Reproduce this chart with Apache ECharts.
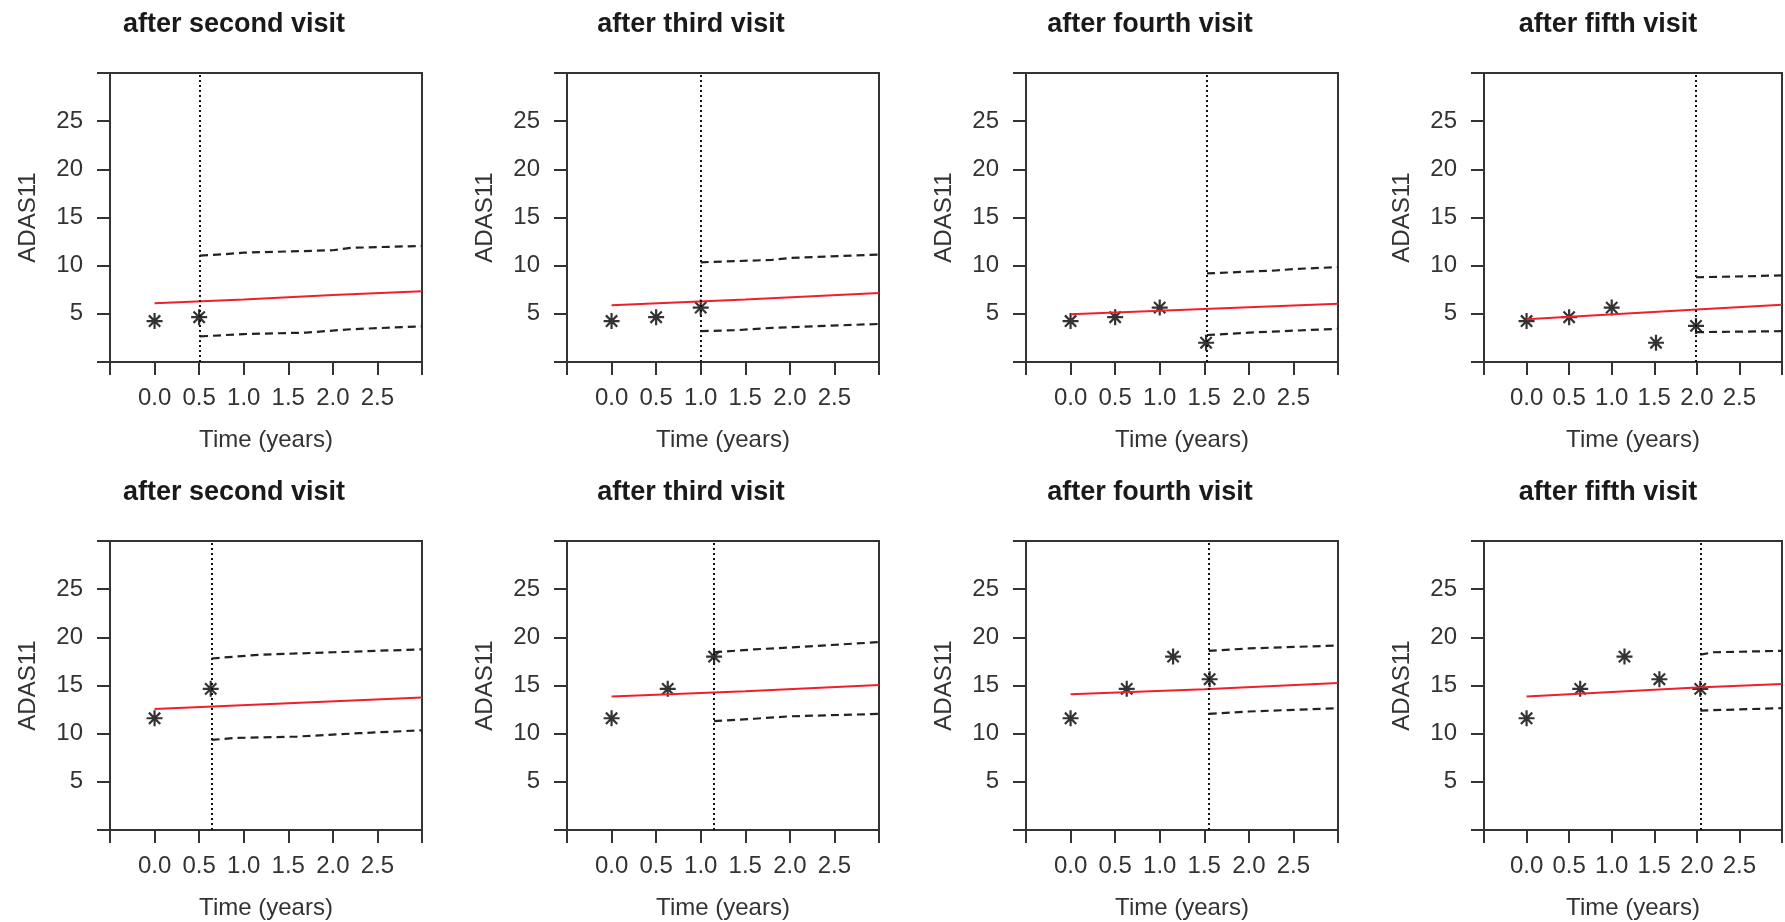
<!DOCTYPE html>
<html>
<head>
<meta charset="utf-8">
<script src="https://cdn.jsdelivr.net/npm/echarts@6/dist/echarts.min.js"></script>
<style>
  html, body { margin: 0; padding: 0; background: #fff; }
  #main { width: 1785px; height: 922px; }
</style>
</head>
<body>
<div id="main"></div>
<script>
// panel titles and tick labels
const panelTitles = ['after second visit', 'after third visit', 'after fourth visit', 'after fifth visit'];
const xTickLabels = ['0.0', '0.5', '1.0', '1.5', '2.0', '2.5'];
const yTickLabels = ['5', '10', '15', '20', '25'];

// top row patient: observed visits
const topTimes = [0, 0.5, 1.0, 1.52, 1.99];
const topScores = [4.25, 4.65, 5.65, 2.0, 3.75];
// time of the last used visit (dotted line) for each panel
const topCut = [0.51, 1.0, 1.53, 1.99];
// predicted mean (red) and interval (dashed), one list per panel
const topMean = [
  [[0, 6.1], [1, 6.5], [2, 6.95], [3, 7.35]],
  [[0, 5.9], [1.5, 6.5], [3, 7.15]],
  [[0, 4.95], [1.5, 5.5], [3, 6.05]],
  [[0, 4.45], [2, 5.45], [3, 5.95]]
];
const topUpper = [
  [[0.51, 11.05], [0.8, 11.2], [1.0, 11.35], [2.0, 11.6], [2.2, 11.85], [3, 12.05]],
  [[1.0, 10.35], [1.8, 10.6], [2.0, 10.8], [3, 11.15]],
  [[1.53, 9.2], [2.3, 9.5], [2.5, 9.65], [3, 9.85]],
  [[1.99, 8.8], [2.6, 8.9], [3, 9.0]]
];
const topLower = [
  [[0.51, 2.65], [0.8, 2.8], [1.0, 2.9], [1.7, 3.05], [2.2, 3.4], [3, 3.7]],
  [[1.0, 3.2], [1.4, 3.3], [1.8, 3.55], [3, 3.95]],
  [[1.53, 2.8], [2.0, 3.05], [2.5, 3.25], [3, 3.45]],
  [[1.99, 3.1], [3, 3.2]]
];

// bottom row patient
const bottomTimes = [0, 0.63, 1.15, 1.56, 2.04];
const bottomScores = [11.6, 14.65, 18.0, 15.65, 14.65];
const bottomCut = [0.64, 1.15, 1.55, 2.04];
const bottomMean = [
  [[0, 12.55], [1.5, 13.15], [3, 13.75]],
  [[0, 13.85], [1.5, 14.4], [3, 15.05]],
  [[0, 14.1], [1.5, 14.6], [3, 15.25]],
  [[0, 13.85], [2, 14.8], [3, 15.15]]
];
const bottomUpper = [
  [[0.64, 17.8], [0.9, 18.0], [1.2, 18.2], [2.0, 18.45], [3, 18.75]],
  [[1.15, 18.45], [1.6, 18.75], [2.0, 18.95], [3, 19.5]],
  [[1.55, 18.6], [2.0, 18.85], [3, 19.15]],
  [[2.04, 18.2], [2.2, 18.45], [3, 18.6]]
];
const bottomLower = [
  [[0.64, 9.35], [0.9, 9.55], [1.6, 9.7], [2.3, 10.05], [3, 10.35]],
  [[1.15, 11.3], [1.6, 11.55], [2.0, 11.8], [3, 12.05]],
  [[1.55, 12.05], [2.0, 12.3], [3, 12.65]],
  [[2.04, 12.4], [3, 12.65]]
];

const FONT = '"Liberation Sans", Arial, sans-serif';
const gridLefts = [110, 567, 1026, 1484];
const rowTops = [73, 541];
const titleTops = [11, 479];
// R style asterisk (pch = 8)
const STAR = 'path://M0,-10L0,10M-10,0L10,0M-7.07,-7.07L7.07,7.07M-7.07,7.07L7.07,-7.07';

const rows = [
  { times: topTimes, scores: topScores, cut: topCut, mean: topMean, upper: topUpper, lower: topLower },
  { times: bottomTimes, scores: bottomScores, cut: bottomCut, mean: bottomMean, upper: bottomUpper, lower: bottomLower }
];

const grid = [], xAxis = [], yAxis = [], series = [], title = [];

rows.forEach((row, r) => {
  for (let c = 0; c < 4; c++) {
    const i = r * 4 + c;
    grid.push({
      left: gridLefts[c], top: rowTops[r], width: 312, height: 289,
      show: true, borderColor: '#333', borderWidth: 2, backgroundColor: 'transparent'
    });
    title.push({
      text: panelTitles[c], left: gridLefts[c] + 124, top: titleTops[r],
      textAlign: 'center', padding: 0,
      textStyle: { fontSize: 27, fontWeight: 'bold', color: '#1a1a1a', fontFamily: FONT }
    });
    xAxis.push({
      gridIndex: i, type: 'value', min: -0.5, max: 3, interval: 0.5,
      axisLine: { show: true, onZero: false, lineStyle: { color: '#333', width: 2 } },
      axisTick: { show: true, length: 13, lineStyle: { color: '#333', width: 2 } },
      axisLabel: {
        fontSize: 24, color: '#333', margin: 24, fontFamily: FONT,
        formatter: v => { const s = v.toFixed(1); return xTickLabels.includes(s) && v >= 0 ? s : ''; }
      },
      splitLine: { show: false },
      name: 'Time (years)', nameLocation: 'middle', nameGap: 66, nameMoveOverlap: false,
      nameTextStyle: { fontSize: 24, color: '#333', fontFamily: FONT }
    });
    yAxis.push({
      gridIndex: i, type: 'value', min: 0, max: 30, interval: 5,
      axisLine: { show: true, onZero: false, lineStyle: { color: '#333', width: 2 } },
      axisTick: { show: true, length: 13, lineStyle: { color: '#333', width: 2 } },
      axisLabel: {
        fontSize: 24, color: '#333', margin: 27, fontFamily: FONT,
        formatter: v => { const s = String(Math.round(v)); return yTickLabels.includes(s) ? s : ''; }
      },
      splitLine: { show: false },
      name: 'ADAS11', nameLocation: 'middle', nameGap: 70, nameRotate: 90, nameMoveOverlap: false,
      nameTextStyle: { fontSize: 24, color: '#333', fontFamily: FONT }
    });

    const n = c + 2;
    const pts = row.times.slice(0, n).map((t, k) => [t, row.scores[k]]);

    series.push({
      type: 'scatter', xAxisIndex: i, yAxisIndex: i, data: pts,
      symbol: STAR, symbolSize: 16,
      itemStyle: { color: '#000', borderColor: '#000', borderWidth: 2.2 },
      markLine: {
        silent: true, symbol: ['none', 'none'], label: { show: false },
        lineStyle: { type: [2, 3], color: '#111', width: 2 },
        data: [{ xAxis: row.cut[c] }]
      }
    });
    series.push({
      type: 'line', xAxisIndex: i, yAxisIndex: i, data: row.mean[c],
      symbol: 'none', lineStyle: { color: '#f0202a', width: 2 }
    });
    series.push({
      type: 'line', xAxisIndex: i, yAxisIndex: i, data: row.upper[c],
      symbol: 'none', lineStyle: { color: '#222', width: 2.2, type: [8, 5] }
    });
    series.push({
      type: 'line', xAxisIndex: i, yAxisIndex: i, data: row.lower[c],
      symbol: 'none', lineStyle: { color: '#222', width: 2.2, type: [8, 5] }
    });
  }
});

const chart = echarts.init(document.getElementById('main'));
chart.setOption({
  animation: false,
  backgroundColor: '#fff',
  title, grid, xAxis, yAxis, series
});
</script>
</body>
</html>
